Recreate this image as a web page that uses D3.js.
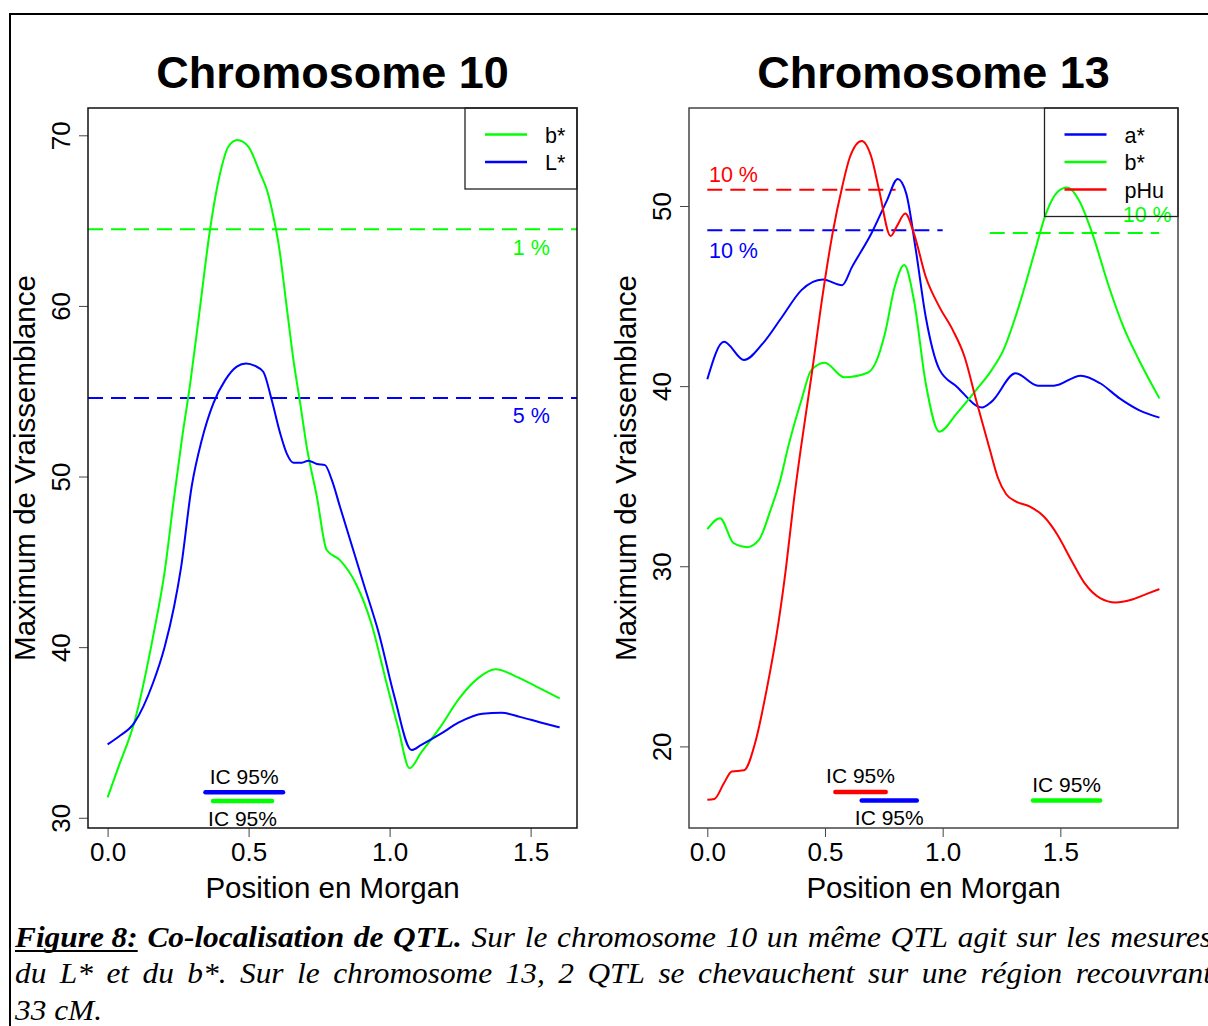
<!DOCTYPE html>
<html>
<head>
<meta charset="utf-8">
<script src="https://cdn.jsdelivr.net/npm/d3@7"></script>
<style>
  body { margin: 0; background: #fff; }
  svg { display: block; }
  text { font-family: "Liberation Sans", Arial, sans-serif; }
  .cap { font-family: "Liberation Serif", "Times New Roman", serif; }
</style>
</head>
<body>
<svg id="chart" width="1208" height="1026"></svg>
<script>
// ---- Chromosome 10 ----
var c10_bPos = [0, 0.039, 0.094, 0.161, 0.204, 0.233, 0.263, 0.293, 0.328, 0.363, 0.399, 0.428, 0.46, 0.499, 0.541, 0.565, 0.588, 0.606, 0.635, 0.659, 0.683, 0.706, 0.742, 0.777, 0.824, 0.881, 0.935, 0.989, 1.03, 1.071, 1.111, 1.179, 1.247, 1.315, 1.376, 1.451, 1.519, 1.603];
var c10_bVal = [31.2, 33.0, 35.55, 40.6, 44.62, 48.43, 52.14, 55.46, 59.95, 64.45, 67.77, 69.33, 69.72, 69.33, 67.77, 66.79, 65.23, 63.67, 59.95, 56.83, 54.29, 51.75, 48.82, 45.69, 45.1, 43.7, 41.4, 37.9, 35.3, 32.9, 33.8, 35.3, 37.0, 38.2, 38.7, 38.26, 37.7, 37.0];
var c10_LPos = [0, 0.039, 0.094, 0.161, 0.202, 0.236, 0.26, 0.298, 0.334, 0.375, 0.417, 0.458, 0.491, 0.523, 0.552, 0.582, 0.612, 0.635, 0.659, 0.689, 0.712, 0.742, 0.771, 0.795, 0.824, 0.908, 0.962, 1.017, 1.078, 1.111, 1.179, 1.247, 1.329, 1.397, 1.465, 1.532, 1.603];
var c10_LVal = [34.3, 34.75, 35.55, 37.9, 40.0, 42.4, 44.62, 49.4, 52.14, 54.29, 55.65, 56.44, 56.63, 56.48, 56.14, 54.48, 52.53, 51.36, 50.81, 50.81, 50.93, 50.73, 50.67, 49.8, 48.23, 43.7, 40.8, 37.1, 33.97, 34.26, 34.9, 35.6, 36.1, 36.15, 35.9, 35.6, 35.3];
var c10_yTicks = [30, 40, 50, 60, 70];
var c10_legend = ["b*", "L*"];
var c10_thrVal = [64.5, 54.6];
var c10_thrLabel = ["1 %", "5 %"];
var c10_icStart = [0.347, 0.374];
var c10_icEnd = [0.622, 0.583];
var c10_icLevel = [31.5, 30.98];

// ---- Chromosome 13 ----
var c13_aPos = [0, 0.071, 0.156, 0.236, 0.318, 0.4, 0.491, 0.573, 0.615, 0.697, 0.763, 0.809, 0.845, 0.886, 0.928, 0.986, 1.06, 1.167, 1.208, 1.31, 1.405, 1.472, 1.587, 1.669, 1.752, 1.834, 1.921];
var c13_aVal = [40.38, 42.46, 41.45, 42.37, 43.85, 45.33, 45.92, 45.6, 46.62, 48.47, 50.3, 51.5, 50.7, 47.55, 43.85, 40.93, 39.97, 38.82, 39.14, 40.71, 40.02, 40.02, 40.58, 40.16, 39.32, 38.67, 38.25];
var c13_bPos = [0, 0.054, 0.112, 0.17, 0.219, 0.269, 0.31, 0.343, 0.4, 0.442, 0.499, 0.582, 0.681, 0.714, 0.755, 0.796, 0.837, 0.878, 0.928, 0.986, 1.06, 1.142, 1.208, 1.258, 1.323, 1.389, 1.439, 1.488, 1.529, 1.579, 1.636, 1.702, 1.768, 1.834, 1.921];
var c13_bVal = [32.06, 32.67, 31.28, 31.06, 31.46, 33.13, 34.79, 36.6, 39.23, 40.89, 41.3, 40.49, 40.74, 41.26, 42.93, 45.5, 46.72, 44.77, 40.16, 37.47, 38.49, 39.78, 40.89, 42.0, 44.4, 47.36, 49.58, 50.78, 51.02, 50.32, 48.47, 45.7, 43.29, 41.45, 39.32];
var c13_pPos = [0, 0.03, 0.071, 0.104, 0.156, 0.203, 0.252, 0.302, 0.335, 0.368, 0.397, 0.442, 0.491, 0.532, 0.573, 0.606, 0.656, 0.697, 0.73, 0.779, 0.804, 0.841, 0.878, 0.928, 0.986, 1.043, 1.093, 1.142, 1.2, 1.235, 1.27, 1.31, 1.373, 1.43, 1.488, 1.546, 1.603, 1.669, 1.735, 1.801, 1.867, 1.921];
var c13_pVal = [17.04, 17.08, 17.97, 18.61, 18.67, 20.19, 23.14, 26.84, 29.98, 33.68, 36.5, 40.52, 45.14, 48.47, 51.06, 52.72, 53.61, 52.72, 50.88, 48.33, 48.84, 49.58, 48.47, 46.07, 44.4, 43.11, 41.63, 39.23, 36.5, 34.9, 34.0, 33.6, 33.3, 32.76, 31.74, 30.35, 29.06, 28.23, 27.99, 28.14, 28.47, 28.73];
var c13_yTicks = [20, 30, 40, 50];
var c13_legend = ["a*", "b*", "pHu"];
var c13_thrVal = [50.9, 48.66, 48.5];
var c13_thrFrom = [0, 0, 1.2];
var c13_thrTo = [0.8, 1.0, 1.92];
var c13_thrLabel = ["10 %", "10 %", "10 %"];
var c13_icStart = [0.544, 0.656, 1.384];
var c13_icEnd = [0.758, 0.89, 1.669];
var c13_icLevel = [17.47, 16.99, 16.99];

var xTicks = [0, 0.5, 1.0, 1.5];
var icLabel = "IC 95%";
var caption1 = ["Sur", "le", "chromosome", "10", "un", "même", "QTL", "agit", "sur", "les", "mesures"];
var caption2 = ["du", "L*", "et", "du", "b*.", "Sur", "le", "chromosome", "13,", "2", "QTL", "se", "chevauchent", "sur", "une", "région", "recouvrant"];
var caption3 = "33 cM.";

var GREEN = "#00ff00", BLUE = "#0000ff", RED = "#ff0000";
var svg = d3.select("#chart");

// outer frame
svg.append("rect").attr("x", 10).attr("y", 14).attr("width", 1400).attr("height", 1200)
  .attr("fill", "none").attr("stroke", "#000").attr("stroke-width", 2);

function drawPanel(p) {
  var x = d3.scaleLinear().domain(p.xDomain).range([p.left, p.right]);
  var y = d3.scaleLinear().domain(p.yDomain).range([p.bottom, p.top]);
  var g = svg.append("g");

  g.append("text")
    .attr("x", (p.left + p.right) / 2).attr("y", 88)
    .attr("text-anchor", "middle")
    .style("font-weight", "bold").style("font-size", "45px")
    .text(p.title);

  // x axis
  var xa = g.append("g").attr("transform", "translate(0," + p.bottom + ")")
    .call(d3.axisBottom(x).tickValues(xTicks).tickFormat(d3.format(".1f")).tickSize(9).tickPadding(6).tickSizeOuter(0));
  xa.select(".domain").remove();
  xa.selectAll("line").attr("stroke", "#444");
  xa.selectAll("text").style("font-size", "26px").attr("font-family", null);

  // y axis, labels parallel to axis
  var ya = g.append("g").attr("transform", "translate(" + p.left + ",0)")
    .call(d3.axisLeft(y).tickValues(p.yTicks).tickSize(9).tickSizeOuter(0));
  ya.select(".domain").remove();
  ya.selectAll("line").attr("stroke", "#444");
  ya.selectAll("text")
    .attr("x", 0).attr("y", -18).attr("dy", null)
    .attr("transform", "rotate(-90)")
    .attr("text-anchor", "middle")
    .attr("font-family", null)
    .style("font-size", "26px");

  g.append("text")
    .attr("x", (p.left + p.right) / 2).attr("y", 898)
    .attr("text-anchor", "middle").style("font-size", "29.5px")
    .text("Position en Morgan");
  g.append("text")
    .attr("transform", "translate(" + (p.left - 53) + "," + (p.top + p.bottom) / 2 + ") rotate(-90)")
    .attr("text-anchor", "middle").style("font-size", "29.5px")
    .text("Maximum de Vraissemblance");

  // threshold lines
  p.thrVal.forEach(function (v, i) {
    var x0 = p.thrFrom ? x(p.thrFrom[i]) : p.left;
    var x1 = p.thrTo ? x(p.thrTo[i]) : p.right;
    g.append("line")
      .attr("x1", x0).attr("x2", x1).attr("y1", y(v)).attr("y2", y(v))
      .attr("stroke", p.thrColor[i]).attr("stroke-width", 2).attr("stroke-dasharray", "15,8");
  });

  // curves
  var line = d3.line().x(function (d) { return x(d[0]); }).y(function (d) { return y(d[1]); })
    .curve(d3.curveMonotoneX);
  p.series.forEach(function (s) {
    g.append("path").datum(d3.zip(s.pos, s.val))
      .attr("d", line).attr("fill", "none")
      .attr("stroke", s.color).attr("stroke-width", 2);
  });

  // threshold labels
  p.thrLabel.forEach(function (t, i) {
    g.append("text")
      .attr("x", x(p.thrLabelAt[i])).attr("y", y(p.thrVal[i]) + p.thrLabelDy[i])
      .style("font-size", "21.5px").attr("fill", p.thrColor[i])
      .text(t);
  });

  // confidence intervals
  p.icStart.forEach(function (s, i) {
    var yy = y(p.icLevel[i]);
    g.append("line")
      .attr("x1", x(s)).attr("x2", x(p.icEnd[i])).attr("y1", yy).attr("y2", yy)
      .attr("stroke", p.icColor[i]).attr("stroke-width", 4.5).attr("stroke-linecap", "round");
    g.append("text")
      .attr("x", (x(s) + x(p.icEnd[i])) / 2)
      .attr("y", p.icSide[i] === "above" ? yy - 8.5 : yy + 24.5)
      .attr("text-anchor", "middle").style("font-size", "21px")
      .text(icLabel);
  });

  // plot box
  g.append("rect").attr("x", p.left).attr("y", p.top)
    .attr("width", p.right - p.left).attr("height", p.bottom - p.top)
    .attr("fill", "none").attr("stroke", p.boxColor).attr("stroke-width", 1.5);

  // legend
  var lw = p.legendW, lh = p.legend.length * 27.5 + 26;
  var lg = g.append("g").attr("transform", "translate(" + (p.right - lw) + "," + p.top + ")");
  lg.append("rect").attr("width", lw).attr("height", lh)
    .attr("fill", "none").attr("stroke", "#222").attr("stroke-width", 1.3);
  p.legend.forEach(function (name, i) {
    var ly = 26.5 + i * 27.5;
    lg.append("line").attr("x1", 20).attr("x2", 62).attr("y1", ly).attr("y2", ly)
      .attr("stroke", p.legendColor[i]).attr("stroke-width", 2.5);
    lg.append("text").attr("x", 80).attr("y", ly + 8)
      .style("font-size", "21.5px").text(name);
  });
}

drawPanel({
  title: "Chromosome 10",
  left: 88, right: 577, top: 108, bottom: 828,
  xDomain: [-0.0695, 1.6645], yDomain: [29.4, 71.6],
  yTicks: c10_yTicks,
  series: [
    { pos: c10_bPos, val: c10_bVal, color: GREEN },
    { pos: c10_LPos, val: c10_LVal, color: BLUE }
  ],
  thrVal: c10_thrVal, thrColor: [GREEN, BLUE], thrLabel: c10_thrLabel,
  thrLabelAt: [1.437, 1.437], thrLabelDy: [26, 25],
  icStart: c10_icStart, icEnd: c10_icEnd, icLevel: c10_icLevel,
  icColor: [BLUE, GREEN], icSide: ["above", "below"],
  legend: c10_legend, legendColor: [GREEN, BLUE], legendW: 112,
  boxColor: "#111"
});

drawPanel({
  title: "Chromosome 13",
  left: 689, right: 1178, top: 108, bottom: 828,
  xDomain: [-0.0778, 1.9999], yDomain: [15.47, 55.44],
  yTicks: c13_yTicks,
  series: [
    { pos: c13_aPos, val: c13_aVal, color: BLUE },
    { pos: c13_bPos, val: c13_bVal, color: GREEN },
    { pos: c13_pPos, val: c13_pVal, color: RED }
  ],
  thrVal: c13_thrVal, thrFrom: c13_thrFrom, thrTo: c13_thrTo,
  thrColor: [RED, BLUE, GREEN], thrLabel: c13_thrLabel,
  thrLabelAt: [0.007, 0.007, 1.765], thrLabelDy: [-7.5, 27.5, -11],
  icStart: c13_icStart, icEnd: c13_icEnd, icLevel: c13_icLevel,
  icColor: [RED, BLUE, GREEN], icSide: ["above", "below", "above"],
  legend: c13_legend, legendColor: [BLUE, GREEN, RED], legendW: 133.5,
  boxColor: "#444"
});

// ---- caption, justified ----
var sx = 1.1, capLeft = 15, capRight = 1212, capSize = 28.5;
var cap = svg.append("g").attr("class", "cap")
  .attr("transform", "translate(" + capLeft + ",0) scale(" + sx + ",1)");
var capW = (capRight - capLeft) / sx;

function word(t, bold) {
  return { t: t, bold: bold };
}
function measure(w) {
  var el = cap.append("text").attr("class", "cap")
    .style("font-size", capSize + "px").style("font-style", "italic")
    .style("font-weight", w.bold ? "bold" : "normal").text(w.t);
  var len = el.node().getComputedTextLength();
  el.remove();
  return len;
}
function justifyLine(words, baseline) {
  var widths = words.map(measure);
  var gap = (capW - d3.sum(widths)) / (words.length - 1);
  var xx = 0, placed = [];
  words.forEach(function (w, i) {
    cap.append("text").attr("class", "cap")
      .attr("x", xx).attr("y", baseline)
      .style("font-size", capSize + "px").style("font-style", "italic")
      .style("font-weight", w.bold ? "bold" : "normal")
      .text(w.t);
    placed.push([xx, xx + widths[i]]);
    xx += widths[i] + gap;
  });
  return placed;
}
var line1 = [word("Figure 8:", true), word("Co-localisation", true), word("de", true), word("QTL.", true)]
  .concat(caption1.map(function (t) { return word(t, false); }));
var placed1 = justifyLine(line1, 947);
cap.append("line").attr("x1", placed1[0][0]).attr("x2", placed1[0][1])
  .attr("y1", 951).attr("y2", 951).attr("stroke", "#000").attr("stroke-width", 1.8);
justifyLine(caption2.map(function (t) { return word(t, false); }), 983.5);
cap.append("text").attr("class", "cap").attr("x", 0).attr("y", 1020)
  .style("font-size", capSize + "px").style("font-style", "italic").text(caption3);
</script>
</body>
</html>
